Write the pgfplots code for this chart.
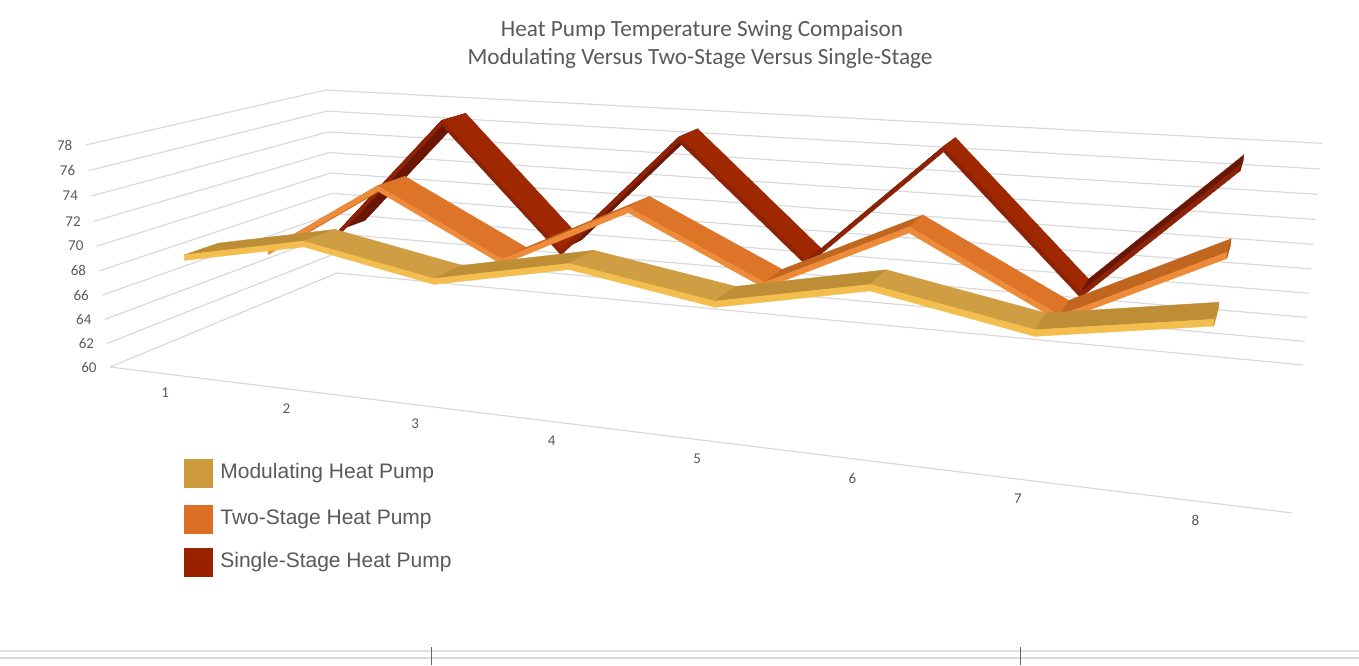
\documentclass[border=0pt]{standalone}
\usepackage{pgfplots}
\pgfplotsset{compat=1.18}
\usepackage{pgfplotstable}
\usepackage{fontspec}
\setmainfont{Carlito}
\newfontfamily\legfont{Liberation Sans}

\definecolor{gridc}{HTML}{D9D9D9}
\definecolor{labc}{HTML}{595959}
\definecolor{modDesc}{HTML}{CF9E42}
\definecolor{modAsc}{HTML}{BE8E36}
\definecolor{modFront}{HTML}{F4BE4E}
\definecolor{modCap}{HTML}{C9962F}
\definecolor{twoDesc}{HTML}{DE7428}
\definecolor{twoAsc}{HTML}{C0661F}
\definecolor{twoFront}{HTML}{EE8B3A}
\definecolor{twoCap}{HTML}{B35A1A}
\definecolor{sinDesc}{HTML}{A02800}
\definecolor{sinAsc}{HTML}{6A1604}
\definecolor{sinFront}{HTML}{8C2206}
\definecolor{sinCap}{HTML}{701A04}
\definecolor{legMod}{HTML}{CC9A3A}
\definecolor{legTwo}{HTML}{DA6F25}
\definecolor{legSin}{HTML}{992100}

% temperatures (rows = categories 1..8)
\pgfplotstableread{
cat mod  two  single
1   69.0 67.0 66.4
2   71.0 73.3 77.1
3   69.0 68.0 66.3
4   71.1 73.1 76.9
5   69.3 68.0 67.2
6   71.5 73.2 77.4
7   69.4 67.5 66.5
8   71.2 73.1 77.3
}\hpdata

\newcommand\ticklabfont{\fontsize{7.5}{9}\selectfont}

% perspective projection: X in [0,1] along categories, Y in [0,1] depth, T temperature
\newcommand\proj[3]{%
  \pgfmathsetmacro\PJz{((#3)-60)/18}%
  \pgfmathsetmacro\PJw{1-0.2243*(#1)+0.2262*(#2)-0.0435*\PJz}%
  \pgfmathsetmacro\PJu{(892.2*(#1)+303.2*(#2)-28*\PJz-10*(#1)*\PJz+110)/\PJw}%
  \pgfmathsetmacro\PJv{(30.9*(#1)-32.2*(#2)-228.3*\PJz+367)/\PJw}%
}

% #1 column, #2 front depth, #3 desc colour, #4 asc colour, #5 front colour, #6 cap colour
\newcommand\drawseries[6]{%
  \pgfmathsetmacro\yb{#2+0.133}%
  \pgfplotsforeachungrouped \i in {0,1,2,3,4,5,6}{%
    \pgfmathtruncatemacro\j{\i+1}%
    \pgfplotstablegetelem{\i}{#1}\of\hpdata \let\za\pgfplotsretval
    \pgfplotstablegetelem{\j}{#1}\of\hpdata \let\zb\pgfplotsretval
    \pgfmathsetmacro\xa{(\i+0.5)/8}%
    \pgfmathsetmacro\xb{(\j+0.5)/8}%
    \pgfmathsetmacro\zat{\za-0.45}%
    \pgfmathsetmacro\zbt{\zb-0.45}%
    \proj{\xa}{#2}{\za}\let\uA\PJu\let\vA\PJv
    \proj{\xb}{#2}{\zb}\let\uB\PJu\let\vB\PJv
    \proj{\xb}{\yb}{\zb}\let\uC\PJu\let\vC\PJv
    \proj{\xa}{\yb}{\za}\let\uD\PJu\let\vD\PJv
    \proj{\xb}{#2}{\zbt}\let\uE\PJu\let\vE\PJv
    \proj{\xa}{#2}{\zat}\let\uF\PJu\let\vF\PJv
    \pgfmathtruncatemacro\isdesc{\zb<\za}%
    \ifnum\isdesc=1 \def\topc{#3}\else\def\topc{#4}\fi
    \edef\tmp{%
      \noexpand\addplot[fill=\topc, draw=\topc, line width=0.2pt] coordinates {(\uA,\vA) (\uB,\vB) (\uC,\vC) (\uD,\vD) (\uA,\vA)};
      \noexpand\addplot[fill=#5, draw=#5, line width=0.2pt] coordinates {(\uA,\vA) (\uB,\vB) (\uE,\vE) (\uF,\vF) (\uA,\vA)};
    }\tmp
  }%
  \pgfplotstablegetelem{7}{#1}\of\hpdata \let\za\pgfplotsretval
  \pgfmathsetmacro\zat{\za-0.45}%
  \proj{0.9375}{#2}{\za}\let\uA\PJu\let\vA\PJv
  \proj{0.9375}{\yb}{\za}\let\uB\PJu\let\vB\PJv
  \proj{0.9375}{\yb}{\zat}\let\uC\PJu\let\vC\PJv
  \proj{0.9375}{#2}{\zat}\let\uD\PJu\let\vD\PJv
  \edef\tmp{%
    \noexpand\addplot[fill=#6, draw=#6, line width=0.2pt] coordinates {(\uA,\vA) (\uB,\vB) (\uC,\vC) (\uD,\vD) (\uA,\vA)};
  }\tmp
}

\begin{document}
\begin{tikzpicture}
\begin{axis}[
  x=0.5pt, y=0.5pt, y dir=reverse,
  xmin=0, xmax=1359, ymin=0, ymax=665,
  scale only axis, axis line style={draw=none}, ticks=none,
  clip=false, no marks,
]
\coordinate (SW) at (axis cs:0,665);
\coordinate (NE) at (axis cs:1359,0);

% walls gridlines and value labels
\pgfplotsforeachungrouped \zz in {60,62,64,66,68,70,72,74,76,78}{%
  \proj{0}{0}{\zz}\let\ua\PJu\let\va\PJv
  \proj{0}{1}{\zz}\let\ub\PJu\let\vb\PJv
  \proj{1}{1}{\zz}\let\uc\PJu\let\vc\PJv
  \pgfmathsetmacro\ul{\ua-13}%
  \edef\tmp{%
    \noexpand\addplot[gridc, line width=0.6pt] coordinates {(\ua,\va) (\ub,\vb) (\uc,\vc)};
    \noexpand\node[anchor=east, font=\noexpand\ticklabfont, text=labc, inner sep=0pt] at (axis cs:\ul,\va) {\zz};
  }\tmp
}
% floor front edge
\proj{0}{0}{60}\let\ua\PJu\let\va\PJv
\proj{1}{0}{60}\let\ub\PJu\let\vb\PJv
\edef\tmp{\noexpand\addplot[gridc, line width=0.6pt] coordinates {(\ua,\va) (\ub,\vb)};}\tmp

% category labels
\pgfplotsforeachungrouped \c in {1,2,3,4,5,6,7,8}{%
  \proj{(\c-0.5)/8}{0}{60}%
  \pgfmathsetmacro\lu{\PJu-3}%
  \pgfmathsetmacro\lv{\PJv+19}%
  \edef\tmp{\noexpand\node[font=\noexpand\ticklabfont, text=labc, inner sep=0pt] at (axis cs:\lu,\lv) {\c};}\tmp
}

% ribbons, back to front
\drawseries{single}{0.767}{sinDesc}{sinAsc}{sinFront}{sinCap}
\drawseries{two}{0.433}{twoDesc}{twoAsc}{twoFront}{twoCap}
\drawseries{mod}{0.1}{modDesc}{modAsc}{modFront}{modCap}

% title
\node[anchor=base, font=\fontsize{11.6}{14}\selectfont, text=labc, inner sep=0pt] at (axis cs:702,36.5) {Heat Pump Temperature Swing Compaison};
\node[anchor=base, font=\fontsize{11.6}{14}\selectfont, text=labc, inner sep=0pt] at (axis cs:700,64) {Modulating Versus Two-Stage Versus Single-Stage};

% legend
\addplot[fill=legMod, draw=legMod] coordinates {(184,459) (212,459) (212,487) (184,487) (184,459)};
\addplot[fill=legTwo, draw=legTwo] coordinates {(184,505) (212,505) (212,533) (184,533) (184,505)};
\addplot[fill=legSin, draw=legSin] coordinates {(184,548) (212,548) (212,576) (184,576) (184,548)};
\node[anchor=west, font=\legfont\fontsize{10.5}{12}\selectfont, text=labc, inner sep=0pt] at (axis cs:220,473) {Modulating Heat Pump};
\node[anchor=west, font=\legfont\fontsize{10.5}{12}\selectfont, text=labc, inner sep=0pt] at (axis cs:220,519) {Two-Stage Heat Pump};
\node[anchor=west, font=\legfont\fontsize{10.5}{12}\selectfont, text=labc, inner sep=0pt] at (axis cs:220,562) {Single-Stage Heat Pump};

% sheet border lines at the bottom
\addplot[gridc!80, line width=0.8pt] coordinates {(0,651) (1359,651)};
\addplot[gridc, line width=0.8pt] coordinates {(0,658) (1359,658)};
\addplot[black!60, line width=0.4pt] coordinates {(431,647) (431,665)};
\addplot[black!60, line width=0.4pt] coordinates {(1020,647) (1020,665)};
\end{axis}
\pgfresetboundingbox
\path[use as bounding box] (SW) rectangle (NE);
\end{tikzpicture}
\end{document}
